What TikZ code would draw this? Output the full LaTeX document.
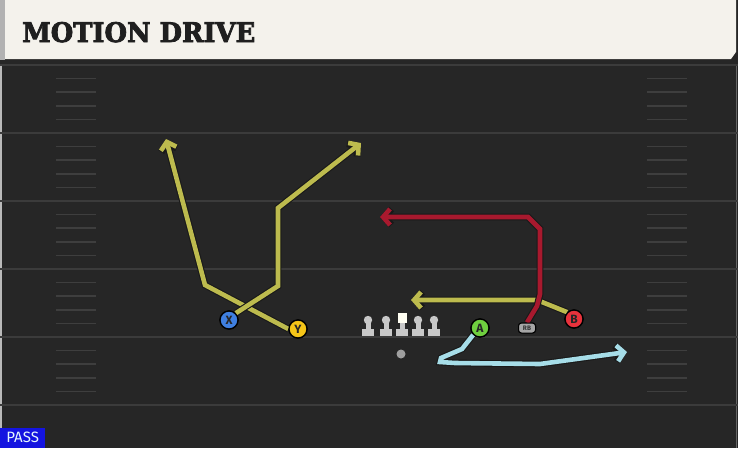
\documentclass[tikz,border=0pt]{standalone}
\usepackage{fontspec}
\usetikzlibrary{arrows.meta}
\newfontfamily\titlefont{DejaVu Serif Bold}[FakeBold=3]
\newfontfamily\labfont{Fira Sans}
\definecolor{fieldbg}{HTML}{262626}
\definecolor{yardline}{HTML}{3B3B3B}
\definecolor{hashc}{HTML}{3E3E3E}
\definecolor{cream}{HTML}{F4F2EC}
\definecolor{routey}{HTML}{BDBB4E}
\definecolor{router}{HTML}{A8192E}
\definecolor{routeb}{HTML}{A6DDE8}
\definecolor{xblue}{HTML}{3F7FE0}
\definecolor{yyellow}{HTML}{F5C518}
\definecolor{agreen}{HTML}{6FCF3F}
\definecolor{bred}{HTML}{E8323C}
\definecolor{linegray}{HTML}{C8C8C8}
\definecolor{passblue}{HTML}{1414E0}
\tikzset{
  route/.style={line width=4.6pt, line join=miter, draw=#1,
    -{Straight Barb[length=7pt,width=16pt]},
    preaction={draw=black!90, line width=6.8pt, -{Straight Barb[length=7pt,width=16pt]}}},
  player/.style={circle, draw=black, line width=1.3pt, fill=#1, minimum size=18pt, inner sep=0pt,
    font=\labfont\bfseries\fontsize{12}{12}\selectfont, text=black!85},
  rbbox/.style={rounded corners=3pt, draw=black, line width=1pt, fill=gray!70, minimum width=17pt, minimum height=10pt, inner sep=0pt,
    font=\labfont\bfseries\fontsize{6.5}{6.5}\selectfont, text=black!80},
  yard/.style={draw=yardline, line width=2pt},
  hashm/.style={draw=hashc, line width=1.5pt},
}
\begin{document}
\begin{tikzpicture}[x=1pt,y=-1pt]
\useasboundingbox (0,0) rectangle (738,448);
% field
\fill[fieldbg] (0,0) rectangle (738,448);
\draw[gray!55, line width=1.5pt] (1,0) -- (1,448);
\draw[black!60, line width=1.5pt] (736.5,59) -- (736.5,448);
% yard lines
\foreach \yy in {65,133,201,269,337,405} {
  \draw[yard] (0,\yy) -- (738,\yy);
}
% hash marks
\foreach \yy in {65,133,201,269,337} {
  \foreach \k in {1,2,3,4} {
    \draw[hashm] (56,\yy+13.6*\k) -- (96,\yy+13.6*\k);
    \draw[hashm] (647,\yy+13.6*\k) -- (687,\yy+13.6*\k);
  }
}
% header
\fill[black!85] (0,59) rectangle (738,64);
\fill[gray!60] (0,0) rectangle (5,60);
\fill[cream] (5,0) -- (736,0) -- (736,52) -- (731,59) -- (5,59) -- cycle;
\node[anchor=base west, inner sep=0pt, text=black!88] (title) at (22,42)
  {\resizebox{233pt}{20pt}{\titlefont MOTION DRIVE}};
% PASS label
\node[anchor=south west, fill=passblue, inner sep=0pt, minimum width=45pt, minimum height=20pt,
  text=white!90!cyan, font=\labfont\fontsize{15}{15}\selectfont] (pass) at (0,448) {PASS};

% players
\node[player=xblue] (X) at (229,320) {X};
\node[player=yyellow] (Y) at (298,329) {Y};
\node[player=agreen] (A) at (480,328) {A};
\node[player=bred] (B) at (574,319) {B};
\node[rbbox] (RB) at (527,328) {RB};
\node[circle, fill=gray!75, minimum size=9pt, inner sep=0pt] (ball) at (401,354) {};

% route waypoints
\coordinate (x1) at (278,286);
\coordinate (x2) at (278,208);
\coordinate (xe) at (361,143);
\coordinate (y1) at (205,285);
\coordinate (ye) at (166,139);
\coordinate (b1) at (537,300);
\coordinate (be) at (411,300);
\coordinate (r1) at (537,306);
\coordinate (r2) at (540,294);
\coordinate (r3) at (540,229);
\coordinate (r4) at (528,217);
\coordinate (re) at (380,217);
\coordinate (a1) at (462,349);
\coordinate (a2) at (441,358);
\coordinate (a3) at (440,362);
\coordinate (a4) at (455,363);
\coordinate (a5) at (540,364);
\coordinate (ae) at (627,352);

% routes
\draw[route=routey] (Y.west) -- (y1) -- (ye);
\draw[route=routey] (X.north east) -- (x1) -- (x2) -- (xe);
\draw[route=routey] (B.north west) -- (b1) -- (be);
\draw[route=router] (RB.north) -- (r1) -- (r2) -- (r3) -- (r4) -- (re);
\draw[route=routeb] (A.south west) -- (a1) -- (a2) -- (a3) -- (a4) -- (a5) -- (ae);

% redraw players on top
\node[player=xblue] at (X) {X};
\node[player=yyellow] at (Y) {Y};
\node[player=agreen] at (A) {A};
\node[player=bred] at (B) {B};
\node[rbbox] at (RB) {RB};

% offensive line
\foreach \lx in {368,386,418,434} {
  \fill[linegray] (\lx-6,329) rectangle (\lx+6,335.5);
  \fill[linegray] (\lx-2.5,320) rectangle (\lx+2.5,330);
  \fill[linegray] (\lx,320) circle (4.2);
}
\fill[linegray] (396,329) rectangle (408,335.5);
\fill[linegray] (399.5,321) rectangle (404.5,330);
\fill[white!95!yellow] (397.5,313) rectangle (406.5,322.5);
\end{tikzpicture}
\end{document}
